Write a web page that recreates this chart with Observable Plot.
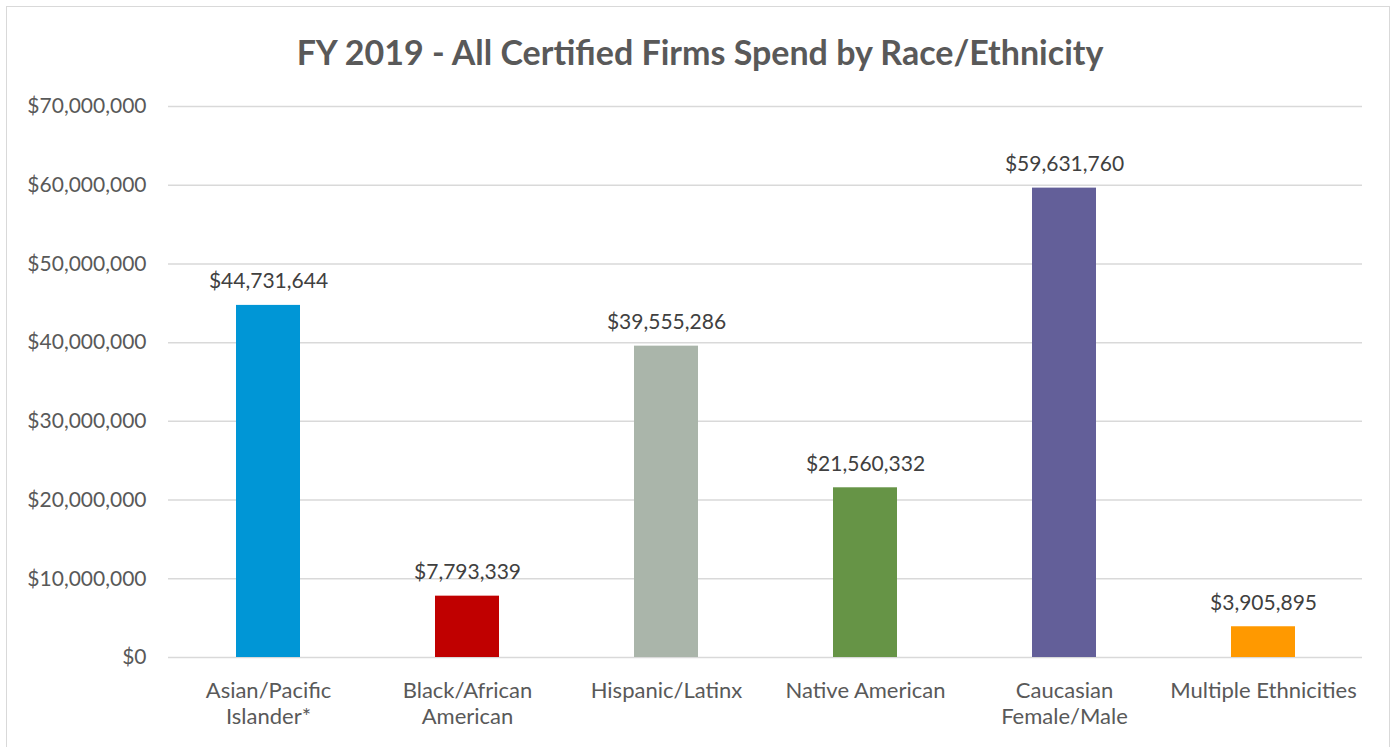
<!DOCTYPE html>
<html>
<head>
<meta charset="utf-8">
<script src="https://cdn.jsdelivr.net/npm/d3@7"></script>
<script src="https://cdn.jsdelivr.net/npm/@observablehq/plot@0.6"></script>
<style>
  html, body { margin: 0; padding: 0; background: #fff; }
  body { width: 1400px; height: 747px; overflow: hidden; position: relative; font-family: Lato, "Open Sans", sans-serif; }
  #frame { position: absolute; left: 6px; top: 6px; width: 1384px; height: 760px; border: 1.5px solid #d9d9d9; box-sizing: border-box; }
  #title { position: absolute; left: 0; top: 31px; width: 1400px; text-align: center; font-size: 34px; font-weight: bold; color: #595959; line-height: 42px; }
  #chart { position: absolute; left: 0; top: 90px; }
</style>
</head>
<body>
<div id="frame"></div>
<div id="title">FY 2019 - All Certified Firms Spend by Race/Ethnicity</div>
<div id="chart"></div>
<script>
const categories = ["Asian/Pacific Islander*", "Black/African American", "Hispanic/Latinx", "Native American", "Caucasian Female/Male", "Multiple Ethnicities"];
const tickLabels = ["Asian/Pacific\nIslander*", "Black/African\nAmerican", "Hispanic/Latinx", "Native American", "Caucasian\nFemale/Male", "Multiple Ethnicities"];
const values = [44731644, 7793339, 39555286, 21560332, 59631760, 3905895];
const colors = ["#0096d6", "#c00000", "#aab5aa", "#669446", "#635f99", "#ff9900"];
const yTicks = [0, 10000000, 20000000, 30000000, 40000000, 50000000, 60000000, 70000000];

const data = categories.map((c, i) => ({category: c, value: values[i], color: colors[i], label: tickLabels[i]}));
const labelOf = new Map(categories.map((c, i) => [c, tickLabels[i]]));
const money = d3.format("$,.0f");

const chart = Plot.plot({
  width: 1400,
  height: 657,
  marginTop: 16,
  marginBottom: 90,
  marginLeft: 168,
  marginRight: 38,
  style: {fontFamily: "Lato, 'Open Sans', sans-serif", background: "transparent"},
  x: {domain: categories, paddingInner: 0.68, paddingOuter: 0.34},
  y: {domain: [0, 70000000]},
  marks: [
    Plot.gridY(yTicks, {stroke: "#d9d9d9", strokeOpacity: 1, strokeWidth: 1.5}),
    Plot.barY(data, {x: "category", y: "value", fill: "color"}),
    Plot.text(data, {x: "category", y: "value", text: d => money(d.value), dy: -17, lineAnchor: "bottom", fontSize: 21, fill: "#404040"}),
    Plot.axisY({ticks: yTicks, tickFormat: money, tickSize: 0, tickPadding: 22, fontSize: 21, color: "#595959", label: null}),
    Plot.axisX({tickFormat: c => labelOf.get(c), tickSize: 0, tickPadding: 22, fontSize: 22, color: "#595959", lineHeight: 1.18, label: null})
  ]
});
document.getElementById("chart").appendChild(chart);
</script>
</body>
</html>
